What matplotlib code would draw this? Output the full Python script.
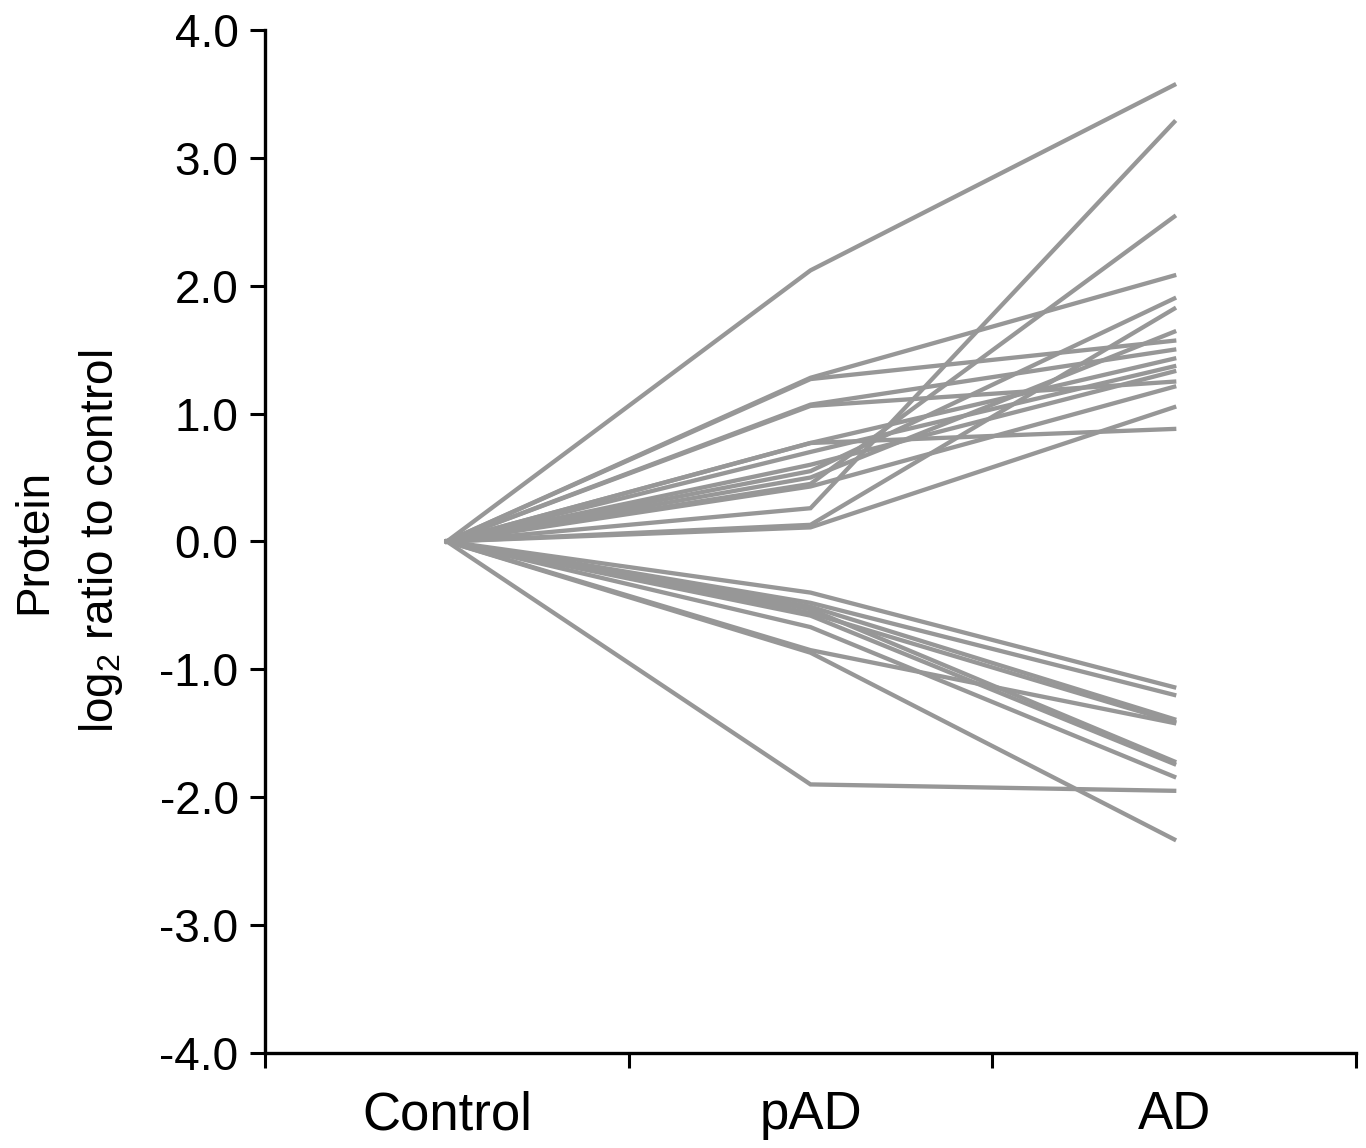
import matplotlib
matplotlib.use("Agg")
import matplotlib.pyplot as plt
import numpy as np

plt.rcParams.update({
    "font.family": "Liberation Sans",
    "mathtext.fontset": "custom",
    "mathtext.rm": "Liberation Sans",
    "mathtext.it": "Liberation Sans:italic",
})

groups = ["Control", "pAD", "AD"]

# log2 ratio at pAD and AD for each protein (Control is 0)
pad_up = [2.12, 0.26, 0.45, 1.28, 0.55, 0.13, 0.50, 1.27, 1.07, 0.77, 0.70, 0.60, 1.06, 0.43, 0.11, 0.77]
ad_up = [3.57, 3.28, 2.54, 2.08, 1.90, 1.82, 1.64, 1.57, 1.50, 1.43, 1.37, 1.33, 1.25, 1.21, 1.05, 0.88]
pad_down = [-0.40, -0.48, -0.51, -0.53, -0.56, -0.58, -0.67, -0.85, -0.87, -1.90]
ad_down = [-1.14, -1.20, -1.39, -1.72, -1.41, -1.74, -1.84, -1.42, -2.33, -1.95]

pad = pad_up + pad_down
ad = ad_up + ad_down

fig = plt.figure(figsize=(13.66, 11.48), dpi=100)
ax = fig.add_axes([0.194, 0.0828, 0.7987, 0.8911])

for p, a in zip(pad, ad):
    ax.plot([0, 1, 2], [0, p, a], color="#979797", linewidth=3.1, solid_joinstyle="miter")

ax.set_xlim(-0.5, 2.5)
ax.set_ylim(-4, 4)
ax.set_yticks(np.arange(-4, 4.1, 1))
ax.set_yticklabels([f"{v:.1f}" for v in np.arange(-4, 4.1, 1)], fontsize=33)
ax.set_xticks([-0.5, 0.5, 1.5, 2.5])
ax.set_xticklabels([])
ax.set_xticks([0, 1, 2], minor=True)
ax.set_xticklabels(groups, minor=True, fontsize=38)
ax.tick_params(axis="x", which="minor", length=0, pad=27)
ax.tick_params(axis="x", which="major", length=11, width=2.2, direction="out")
ax.tick_params(axis="y", length=11, width=2.2, direction="out", pad=8)

for s in ["top", "right"]:
    ax.spines[s].set_visible(False)
for s in ["left", "bottom"]:
    ax.spines[s].set_linewidth(2.4)

ax.set_ylabel("Protein\nlog$_2$ ratio to control", fontsize=33, linespacing=1.6)
ax.yaxis.set_label_coords(-0.128, 0.5)

fig.savefig("out.png", dpi=100)
